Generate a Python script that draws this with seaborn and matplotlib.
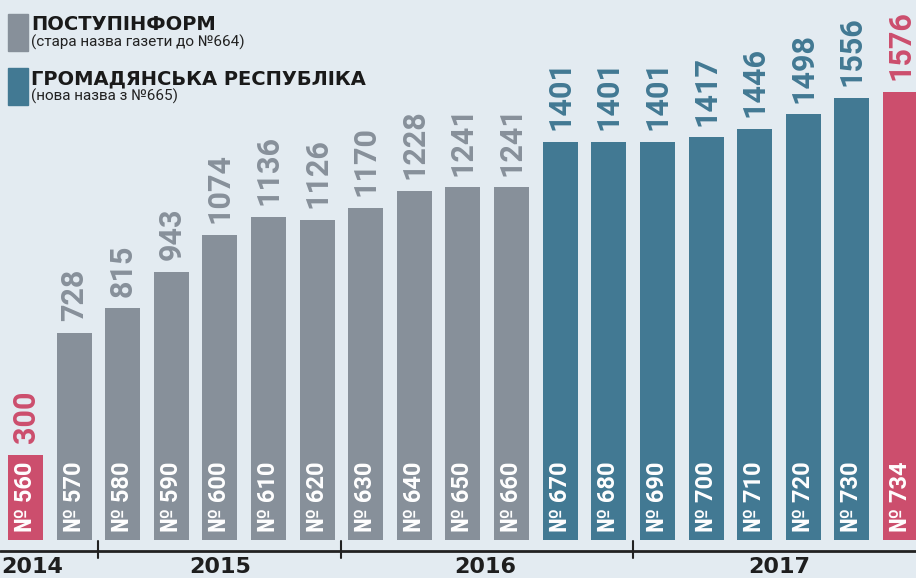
import numpy as np
import pandas as pd
import matplotlib.pyplot as plt
import matplotlib.patches as mpatches
import seaborn as sns

# Circulation per issue
issues = ['560', '570', '580', '590', '600', '610', '620', '630', '640', '650',
          '660', '670', '680', '690', '700', '710', '720', '730', '734']
values = [300, 728, 815, 943, 1074, 1136, 1126, 1170, 1228, 1241,
          1241, 1401, 1401, 1401, 1417, 1446, 1498, 1556, 1576]
groups = ['edge'] + ['old'] * 10 + ['new'] * 7 + ['edge']

years = ['2014', '2015', '2016', '2017']
year_pos = [-0.5, 4.0, 9.45, 15.5]
year_ha = ['left', 'center', 'center', 'center']
year_breaks = [1.5, 6.5, 12.5]

legend_titles = ['ПОСТУПІНФОРМ', 'ГРОМАДЯНСЬКА РЕСПУБЛІКА']
legend_notes = ['(стара назва газети до №664)', '(нова назва з №665)']

BG = '#e3ebf1'
palette = {'old': '#87909a', 'new': '#427993', 'edge': '#cc4e6d'}

df = pd.DataFrame({'issue': issues, 'value': values, 'group': groups})

sns.set_theme(style='white')
plt.rcParams['font.family'] = ['DejaVu Sans']

fig = plt.figure(figsize=(9.16, 5.78), dpi=100)
fig.patch.set_facecolor(BG)
ax = fig.add_axes([0, 0, 1, 1])
ax.set_facecolor(BG)

sns.barplot(data=df, x='issue', y='value', hue='group', palette=palette,
            dodge=False, width=0.72, saturation=1, legend=False, linewidth=0, ax=ax)

# px scale: bar baseline at y=540 px, ~0.284 px per unit
ax.set_xlim(-0.525, 18.32)
ax.set_ylim(-134, 1901)
ax.axis('off')

for i, (v, g) in enumerate(zip(values, groups)):
    col = palette[g]
    ax.text(i, v + 42, str(v), rotation=90, ha='center', va='bottom',
            color=col, fontsize=22, fontweight='bold', family=['Roboto', 'DejaVu Sans'])
    ax.text(i, 28, '№ ' + issues[i], rotation=90, ha='center', va='bottom',
            color='white', fontsize=17, fontweight='bold', family=['Roboto', 'DejaVu Sans'])

# time axis
ax.axhline(-39, color='#222222', lw=2)
for b in year_breaks:
    ax.plot([b, b], [-4, -63], color='#222222', lw=1.5)
for y, p, ha in zip(years, year_pos, year_ha):
    ax.text(p, -95, y, ha=ha, va='center', fontsize=16,
            fontweight='heavy', color='#1e1e1e')

# custom legend
for k, (t, n, g) in enumerate(zip(legend_titles, legend_notes, ['old', 'new'])):
    top = 14 + k * 54
    fig.add_artist(mpatches.Rectangle((8 / 916, 1 - (top + 37) / 578), 20 / 916, 37 / 578,
                                      transform=fig.transFigure, color=palette[g]))
    fig.text(31 / 916, 1 - (top + 16) / 578, t, fontsize=14, fontweight='heavy',
             color='#1a1a1a', va='baseline')
    fig.text(31 / 916, 1 - (top + 33) / 578, n, fontsize=11, color='#222222', va='baseline',
             family=['Roboto', 'DejaVu Sans'])

fig.savefig('out.png', dpi=100, facecolor=BG)
